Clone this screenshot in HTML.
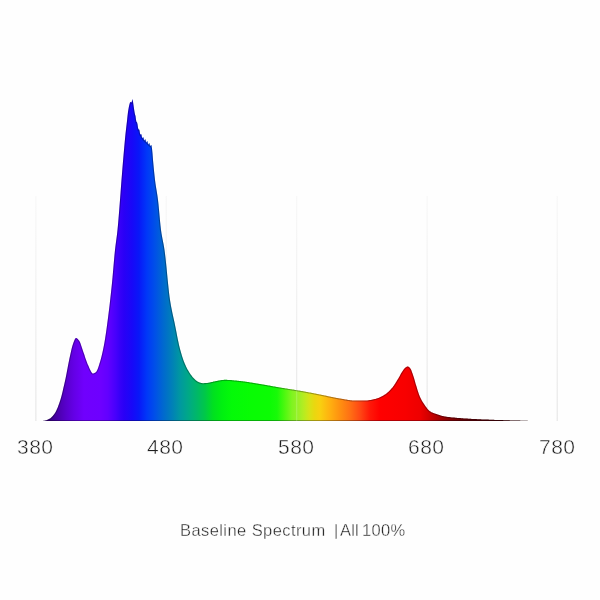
<!DOCTYPE html>
<html><head><meta charset="utf-8"><title>Baseline Spectrum</title>
<style>
html,body{margin:0;padding:0;background:#fefefe;}
body{width:600px;height:600px;position:relative;overflow:hidden;font-family:"Liberation Sans",sans-serif;}
svg{position:absolute;left:0;top:0;}
.t,.cap{will-change:transform;}
.t{position:absolute;top:435px;width:80px;text-align:center;font-size:21px;line-height:24px;color:#1e1e1e;letter-spacing:0.5px;text-indent:0.5px;-webkit-text-stroke:0.45px #fefefe;}
.cap{position:absolute;top:520.1px;font-size:16.5px;line-height:20px;color:#262626;white-space:pre;-webkit-text-stroke:0.35px #fefefe;}
</style></head><body>
<svg width="600" height="600" viewBox="0 0 600 600">
<defs><linearGradient id="g" gradientUnits="userSpaceOnUse" x1="42" y1="0" x2="530" y2="0">
<stop offset="0.0000" stop-color="#2a0060"/>
<stop offset="0.0164" stop-color="#3c0088"/>
<stop offset="0.0328" stop-color="#4a00ac"/>
<stop offset="0.0492" stop-color="#5800cc"/>
<stop offset="0.0656" stop-color="#6400e6"/>
<stop offset="0.0861" stop-color="#7000fd"/>
<stop offset="0.1189" stop-color="#6e00ff"/>
<stop offset="0.1352" stop-color="#6200ff"/>
<stop offset="0.1516" stop-color="#4600fc"/>
<stop offset="0.1598" stop-color="#3600f8"/>
<stop offset="0.1680" stop-color="#2a00f6"/>
<stop offset="0.1844" stop-color="#1808f8"/>
<stop offset="0.1988" stop-color="#0818f8"/>
<stop offset="0.2152" stop-color="#0038f8"/>
<stop offset="0.2316" stop-color="#0050e8"/>
<stop offset="0.2480" stop-color="#0068d0"/>
<stop offset="0.2664" stop-color="#0080b8"/>
<stop offset="0.2828" stop-color="#0098a0"/>
<stop offset="0.2992" stop-color="#00a888"/>
<stop offset="0.3176" stop-color="#00b868"/>
<stop offset="0.3340" stop-color="#00c848"/>
<stop offset="0.3504" stop-color="#00e020"/>
<stop offset="0.3689" stop-color="#00f010"/>
<stop offset="0.3893" stop-color="#04fa08"/>
<stop offset="0.4262" stop-color="#08fc04"/>
<stop offset="0.4672" stop-color="#0cfc04"/>
<stop offset="0.4816" stop-color="#18fa08"/>
<stop offset="0.4980" stop-color="#50f810"/>
<stop offset="0.5123" stop-color="#80f420"/>
<stop offset="0.5246" stop-color="#98f028"/>
<stop offset="0.5369" stop-color="#b8ec20"/>
<stop offset="0.5471" stop-color="#d4e418"/>
<stop offset="0.5574" stop-color="#e8d810"/>
<stop offset="0.5697" stop-color="#f8d010"/>
<stop offset="0.5902" stop-color="#ffb010"/>
<stop offset="0.6107" stop-color="#ff9010"/>
<stop offset="0.6311" stop-color="#ff7014"/>
<stop offset="0.6516" stop-color="#ff4814"/>
<stop offset="0.6721" stop-color="#ff1808"/>
<stop offset="0.6926" stop-color="#ff0000"/>
<stop offset="0.7439" stop-color="#f80000"/>
<stop offset="0.7746" stop-color="#ee0000"/>
<stop offset="0.7910" stop-color="#d40000"/>
<stop offset="0.8074" stop-color="#b40000"/>
<stop offset="0.8279" stop-color="#900000"/>
<stop offset="0.8566" stop-color="#700000"/>
<stop offset="0.9180" stop-color="#500000"/>
<stop offset="1.0000" stop-color="#301010"/>
</linearGradient><linearGradient id="gl" gradientUnits="userSpaceOnUse" x1="0" y1="196" x2="0" y2="421"><stop offset="0" stop-color="#f8f8f8"/><stop offset="0.5" stop-color="#f1f1f1"/><stop offset="1" stop-color="#e9e9e9"/></linearGradient><clipPath id="c"><path d="M42,421 L42.0,421.0 L42.5,421.0 L43.0,420.9 L43.5,420.8 L44.0,420.8 L44.5,420.7 L45.0,420.5 L45.5,420.4 L46.0,420.3 L46.5,420.2 L47.0,420.0 L47.5,419.8 L48.0,419.6 L48.5,419.3 L49.0,419.1 L49.5,418.8 L50.0,418.5 L50.5,418.2 L51.0,417.8 L51.5,417.3 L52.0,416.8 L52.5,416.3 L53.0,415.7 L53.5,415.1 L54.0,414.4 L54.5,413.7 L55.0,413.0 L55.5,412.2 L56.0,411.3 L56.5,410.2 L57.0,409.1 L57.5,407.9 L58.0,406.7 L58.5,405.3 L59.0,403.9 L59.5,402.5 L60.0,401.0 L60.5,399.4 L61.0,397.7 L61.5,395.9 L62.0,393.9 L62.5,391.9 L63.0,389.8 L63.5,387.6 L64.0,385.4 L64.5,383.2 L65.0,381.0 L65.5,378.7 L66.0,376.3 L66.5,373.7 L67.0,371.1 L67.5,368.5 L68.0,365.8 L68.5,363.2 L69.0,360.7 L69.5,358.3 L70.0,356.0 L70.5,353.8 L71.0,351.5 L71.5,349.3 L72.0,347.3 L72.5,345.5 L73.0,344.0 L73.5,342.6 L74.0,341.3 L74.5,340.0 L75.0,339.0 L75.5,338.3 L76.0,338.0 L76.5,338.1 L77.0,338.4 L77.5,338.8 L78.0,339.3 L78.5,339.9 L79.0,340.5 L79.5,341.3 L80.0,342.3 L80.5,343.6 L81.0,345.0 L81.5,346.5 L82.0,348.1 L82.5,349.6 L83.0,351.0 L83.5,352.4 L84.0,353.8 L84.5,355.3 L85.0,356.9 L85.5,358.4 L86.0,359.8 L86.5,361.3 L87.0,362.6 L87.5,363.9 L88.0,365.0 L88.5,366.1 L89.0,367.2 L89.5,368.4 L90.0,369.5 L90.5,370.6 L91.0,371.5 L91.5,372.3 L92.0,373.0 L92.5,373.4 L93.0,373.5 L93.5,373.4 L94.0,373.3 L94.5,373.1 L95.0,372.7 L95.5,372.4 L96.0,372.0 L96.5,371.4 L97.0,370.6 L97.5,369.5 L98.0,368.2 L98.5,366.7 L99.0,365.2 L99.5,363.6 L100.0,362.0 L100.5,360.3 L101.0,358.6 L101.5,356.6 L102.0,354.5 L102.5,352.3 L103.0,350.0 L103.5,347.6 L104.0,345.0 L104.5,342.3 L105.0,339.3 L105.5,336.1 L106.0,332.7 L106.5,329.2 L107.0,325.5 L107.5,321.8 L108.0,318.0 L108.5,314.1 L109.0,310.1 L109.5,305.9 L110.0,301.6 L110.5,297.1 L111.0,292.6 L111.5,287.8 L112.0,283.0 L112.5,277.8 L113.0,272.1 L113.5,266.3 L114.0,260.5 L114.5,255.0 L115.0,250.0 L115.5,245.7 L116.0,241.9 L116.5,238.3 L117.0,234.4 L117.5,230.0 L118.0,224.8 L118.5,219.0 L119.0,212.8 L119.5,206.4 L120.0,200.0 L120.5,193.4 L121.0,186.6 L121.5,180.0 L122.0,173.7 L122.5,167.6 L123.0,161.5 L123.5,155.7 L124.0,150.0 L124.5,144.4 L125.0,139.0 L125.5,133.9 L126.0,129.4 L126.5,125.3 L127.0,121.1 L127.5,116.3 L128.0,112.0 L128.5,108.9 L129.0,106.3 L129.5,104.2 L130.0,102.4 L130.5,102.0 L131.0,102.3 L131.5,102.6 L132.0,101.1 L132.5,99.0 L133.0,101.7 L133.5,105.3 L134.0,108.8 L134.5,112.0 L135.0,114.6 L135.5,116.1 L136.0,120.1 L136.5,122.1 L137.0,122.3 L137.5,124.2 L138.0,127.8 L138.5,129.5 L139.0,129.2 L139.5,130.6 L140.0,133.6 L140.5,134.7 L141.0,133.9 L141.5,134.8 L142.0,137.5 L142.5,138.2 L143.0,137.1 L143.5,137.7 L144.0,140.0 L144.5,140.5 L145.0,139.2 L145.5,139.6 L146.0,141.9 L146.5,142.4 L147.0,141.1 L147.5,141.6 L148.0,143.9 L148.5,144.4 L149.0,143.1 L149.5,143.6 L150.0,145.7 L150.5,146.1 L151.0,144.8 L151.5,145.6 L152.0,148.4 L152.5,153.6 L153.0,160.0 L153.5,165.5 L154.0,170.8 L154.5,175.6 L155.0,180.0 L155.5,183.7 L156.0,187.0 L156.5,190.0 L157.0,193.1 L157.5,196.3 L158.0,200.0 L158.5,204.5 L159.0,209.7 L159.5,215.3 L160.0,220.7 L160.5,225.8 L161.0,230.0 L161.5,233.4 L162.0,236.3 L162.5,238.9 L163.0,241.4 L163.5,244.0 L164.0,246.8 L164.5,250.0 L165.0,253.8 L165.5,258.0 L166.0,262.7 L166.5,267.6 L167.0,272.8 L167.5,277.9 L168.0,283.0 L168.5,287.8 L169.0,292.4 L169.5,296.5 L170.0,300.0 L170.5,303.1 L171.0,305.9 L171.5,308.6 L172.0,311.1 L172.5,313.5 L173.0,315.8 L173.5,318.0 L174.0,320.3 L174.5,322.6 L175.0,325.0 L175.5,327.5 L176.0,330.0 L176.5,332.6 L177.0,335.2 L177.5,337.7 L178.0,340.2 L178.5,342.6 L179.0,344.9 L179.5,347.0 L180.0,349.0 L180.5,350.8 L181.0,352.6 L181.5,354.3 L182.0,356.0 L182.5,357.5 L183.0,359.0 L183.5,360.4 L184.0,361.8 L184.5,363.0 L185.0,364.2 L185.5,365.3 L186.0,366.4 L186.5,367.4 L187.0,368.4 L187.5,369.4 L188.0,370.3 L188.5,371.1 L189.0,372.0 L189.5,372.7 L190.0,373.5 L190.5,374.2 L191.0,374.9 L191.5,375.6 L192.0,376.2 L192.5,376.9 L193.0,377.5 L193.5,378.0 L194.0,378.6 L194.5,379.0 L195.0,379.5 L195.5,379.9 L196.0,380.4 L196.5,380.8 L197.0,381.2 L197.5,381.5 L198.0,381.8 L198.5,382.1 L199.0,382.3 L199.5,382.5 L200.0,382.6 L200.5,382.8 L201.0,382.9 L201.5,383.0 L202.0,383.1 L202.5,383.2 L203.0,383.2 L203.5,383.2 L204.0,383.2 L204.5,383.1 L205.0,383.1 L205.5,383.1 L206.0,383.0 L206.5,383.0 L207.0,382.9 L207.5,382.9 L208.0,382.8 L208.5,382.7 L209.0,382.7 L209.5,382.6 L210.0,382.5 L210.5,382.3 L211.0,382.2 L211.5,382.1 L212.0,382.0 L212.5,381.9 L213.0,381.7 L213.5,381.6 L214.0,381.5 L214.5,381.4 L215.0,381.3 L215.5,381.2 L216.0,381.1 L216.5,381.0 L217.0,380.9 L217.5,380.8 L218.0,380.7 L218.5,380.6 L219.0,380.5 L219.5,380.4 L220.0,380.3 L220.5,380.2 L221.0,380.2 L221.5,380.1 L222.0,380.0 L222.5,380.0 L223.0,379.9 L223.5,379.9 L224.0,379.8 L224.5,379.8 L225.0,379.8 L225.5,379.8 L226.0,379.8 L226.5,379.8 L227.0,379.8 L227.5,379.9 L228.0,379.9 L228.5,379.9 L229.0,379.9 L229.5,380.0 L230.0,380.0 L230.5,380.0 L231.0,380.1 L231.5,380.1 L232.0,380.2 L232.5,380.2 L233.0,380.3 L233.5,380.3 L234.0,380.4 L234.5,380.4 L235.0,380.5 L235.5,380.5 L236.0,380.6 L236.5,380.6 L237.0,380.7 L237.5,380.7 L238.0,380.8 L238.5,380.8 L239.0,380.9 L239.5,380.9 L240.0,381.0 L240.5,381.1 L241.0,381.1 L241.5,381.2 L242.0,381.2 L242.5,381.3 L243.0,381.3 L243.5,381.4 L244.0,381.5 L244.5,381.5 L245.0,381.6 L245.5,381.7 L246.0,381.7 L246.5,381.8 L247.0,381.9 L247.5,382.0 L248.0,382.0 L248.5,382.1 L249.0,382.2 L249.5,382.3 L250.0,382.4 L250.5,382.4 L251.0,382.5 L251.5,382.6 L252.0,382.7 L252.5,382.8 L253.0,382.8 L253.5,382.9 L254.0,383.0 L254.5,383.1 L255.0,383.2 L255.5,383.3 L256.0,383.3 L256.5,383.4 L257.0,383.5 L257.5,383.6 L258.0,383.7 L258.5,383.8 L259.0,383.8 L259.5,383.9 L260.0,384.0 L260.5,384.1 L261.0,384.2 L261.5,384.2 L262.0,384.3 L262.5,384.4 L263.0,384.5 L263.5,384.6 L264.0,384.7 L264.5,384.8 L265.0,384.8 L265.5,384.9 L266.0,385.0 L266.5,385.1 L267.0,385.2 L267.5,385.3 L268.0,385.4 L268.5,385.5 L269.0,385.6 L269.5,385.6 L270.0,385.7 L270.5,385.8 L271.0,385.9 L271.5,386.0 L272.0,386.1 L272.5,386.2 L273.0,386.3 L273.5,386.4 L274.0,386.5 L274.5,386.5 L275.0,386.6 L275.5,386.7 L276.0,386.8 L276.5,386.9 L277.0,387.0 L277.5,387.1 L278.0,387.2 L278.5,387.2 L279.0,387.3 L279.5,387.4 L280.0,387.5 L280.5,387.6 L281.0,387.7 L281.5,387.7 L282.0,387.8 L282.5,387.9 L283.0,388.0 L283.5,388.1 L284.0,388.1 L284.5,388.2 L285.0,388.3 L285.5,388.4 L286.0,388.5 L286.5,388.5 L287.0,388.6 L287.5,388.7 L288.0,388.8 L288.5,388.9 L289.0,388.9 L289.5,389.0 L290.0,389.1 L290.5,389.2 L291.0,389.2 L291.5,389.3 L292.0,389.4 L292.5,389.5 L293.0,389.6 L293.5,389.6 L294.0,389.7 L294.5,389.8 L295.0,389.9 L295.5,389.9 L296.0,390.0 L296.5,390.1 L297.0,390.2 L297.5,390.3 L298.0,390.4 L298.5,390.4 L299.0,390.5 L299.5,390.6 L300.0,390.7 L300.5,390.8 L301.0,390.9 L301.5,391.0 L302.0,391.1 L302.5,391.1 L303.0,391.2 L303.5,391.3 L304.0,391.4 L304.5,391.5 L305.0,391.6 L305.5,391.7 L306.0,391.8 L306.5,391.9 L307.0,392.0 L307.5,392.1 L308.0,392.2 L308.5,392.3 L309.0,392.4 L309.5,392.5 L310.0,392.5 L310.5,392.6 L311.0,392.7 L311.5,392.8 L312.0,392.9 L312.5,393.0 L313.0,393.1 L313.5,393.2 L314.0,393.3 L314.5,393.4 L315.0,393.5 L315.5,393.6 L316.0,393.7 L316.5,393.8 L317.0,393.9 L317.5,394.0 L318.0,394.1 L318.5,394.2 L319.0,394.3 L319.5,394.4 L320.0,394.5 L320.5,394.6 L321.0,394.7 L321.5,394.8 L322.0,394.9 L322.5,395.0 L323.0,395.1 L323.5,395.2 L324.0,395.3 L324.5,395.4 L325.0,395.5 L325.5,395.6 L326.0,395.7 L326.5,395.8 L327.0,396.0 L327.5,396.1 L328.0,396.2 L328.5,396.3 L329.0,396.4 L329.5,396.5 L330.0,396.6 L330.5,396.7 L331.0,396.8 L331.5,396.9 L332.0,397.0 L332.5,397.1 L333.0,397.2 L333.5,397.3 L334.0,397.4 L334.5,397.5 L335.0,397.6 L335.5,397.7 L336.0,397.8 L336.5,397.9 L337.0,398.0 L337.5,398.1 L338.0,398.2 L338.5,398.3 L339.0,398.3 L339.5,398.4 L340.0,398.5 L340.5,398.6 L341.0,398.7 L341.5,398.7 L342.0,398.8 L342.5,398.9 L343.0,399.0 L343.5,399.1 L344.0,399.2 L344.5,399.3 L345.0,399.4 L345.5,399.5 L346.0,399.5 L346.5,399.6 L347.0,399.7 L347.5,399.8 L348.0,399.9 L348.5,400.0 L349.0,400.0 L349.5,400.1 L350.0,400.2 L350.5,400.2 L351.0,400.3 L351.5,400.3 L352.0,400.4 L352.5,400.4 L353.0,400.4 L353.5,400.5 L354.0,400.5 L354.5,400.5 L355.0,400.5 L355.5,400.5 L356.0,400.5 L356.5,400.5 L357.0,400.5 L357.5,400.5 L358.0,400.5 L358.5,400.5 L359.0,400.5 L359.5,400.5 L360.0,400.5 L360.5,400.5 L361.0,400.5 L361.5,400.5 L362.0,400.5 L362.5,400.5 L363.0,400.5 L363.5,400.5 L364.0,400.5 L364.5,400.5 L365.0,400.5 L365.5,400.5 L366.0,400.5 L366.5,400.5 L367.0,400.4 L367.5,400.4 L368.0,400.3 L368.5,400.3 L369.0,400.2 L369.5,400.1 L370.0,400.0 L370.5,399.9 L371.0,399.9 L371.5,399.8 L372.0,399.7 L372.5,399.6 L373.0,399.4 L373.5,399.3 L374.0,399.2 L374.5,399.1 L375.0,399.0 L375.5,398.9 L376.0,398.7 L376.5,398.6 L377.0,398.4 L377.5,398.3 L378.0,398.1 L378.5,397.9 L379.0,397.7 L379.5,397.5 L380.0,397.2 L380.5,397.0 L381.0,396.8 L381.5,396.5 L382.0,396.2 L382.5,396.0 L383.0,395.7 L383.5,395.4 L384.0,395.1 L384.5,394.8 L385.0,394.5 L385.5,394.2 L386.0,393.8 L386.5,393.5 L387.0,393.1 L387.5,392.6 L388.0,392.2 L388.5,391.7 L389.0,391.2 L389.5,390.7 L390.0,390.2 L390.5,389.7 L391.0,389.1 L391.5,388.6 L392.0,388.0 L392.5,387.4 L393.0,386.8 L393.5,386.1 L394.0,385.4 L394.5,384.6 L395.0,383.9 L395.5,383.1 L396.0,382.3 L396.5,381.5 L397.0,380.6 L397.5,379.8 L398.0,379.0 L398.5,378.2 L399.0,377.3 L399.5,376.4 L400.0,375.4 L400.5,374.5 L401.0,373.6 L401.5,372.8 L402.0,372.0 L402.5,371.2 L403.0,370.5 L403.5,369.7 L404.0,369.0 L404.5,368.5 L405.0,368.0 L405.5,367.6 L406.0,367.2 L406.5,366.9 L407.0,366.6 L407.5,366.5 L408.0,366.5 L408.5,366.7 L409.0,367.1 L409.5,367.5 L410.0,368.0 L410.5,368.7 L411.0,369.6 L411.5,370.8 L412.0,372.2 L412.5,373.6 L413.0,375.0 L413.5,376.5 L414.0,378.1 L414.5,379.8 L415.0,381.6 L415.5,383.4 L416.0,385.0 L416.5,386.6 L417.0,388.2 L417.5,389.9 L418.0,391.5 L418.5,393.0 L419.0,394.5 L419.5,395.8 L420.0,397.0 L420.5,398.1 L421.0,399.1 L421.5,400.0 L422.0,400.9 L422.5,401.7 L423.0,402.5 L423.5,403.3 L424.0,404.0 L424.5,404.7 L425.0,405.5 L425.5,406.2 L426.0,406.9 L426.5,407.6 L427.0,408.3 L427.5,408.9 L428.0,409.5 L428.5,410.0 L429.0,410.5 L429.5,410.9 L430.0,411.3 L430.5,411.6 L431.0,411.9 L431.5,412.2 L432.0,412.4 L432.5,412.6 L433.0,412.9 L433.5,413.1 L434.0,413.3 L434.5,413.4 L435.0,413.6 L435.5,413.8 L436.0,414.0 L436.5,414.1 L437.0,414.3 L437.5,414.5 L438.0,414.6 L438.5,414.8 L439.0,415.0 L439.5,415.1 L440.0,415.3 L440.5,415.4 L441.0,415.6 L441.5,415.7 L442.0,415.9 L442.5,416.0 L443.0,416.1 L443.5,416.2 L444.0,416.3 L444.5,416.4 L445.0,416.5 L445.5,416.6 L446.0,416.7 L446.5,416.7 L447.0,416.8 L447.5,416.9 L448.0,416.9 L448.5,417.0 L449.0,417.1 L449.5,417.1 L450.0,417.2 L450.5,417.2 L451.0,417.3 L451.5,417.4 L452.0,417.4 L452.5,417.5 L453.0,417.5 L453.5,417.6 L454.0,417.6 L454.5,417.6 L455.0,417.7 L455.5,417.7 L456.0,417.8 L456.5,417.8 L457.0,417.9 L457.5,417.9 L458.0,417.9 L458.5,418.0 L459.0,418.0 L459.5,418.1 L460.0,418.1 L460.5,418.1 L461.0,418.2 L461.5,418.2 L462.0,418.3 L462.5,418.3 L463.0,418.3 L463.5,418.4 L464.0,418.4 L464.5,418.4 L465.0,418.5 L465.5,418.5 L466.0,418.5 L466.5,418.6 L467.0,418.6 L467.5,418.6 L468.0,418.7 L468.5,418.7 L469.0,418.7 L469.5,418.8 L470.0,418.8 L470.5,418.8 L471.0,418.8 L471.5,418.9 L472.0,418.9 L472.5,418.9 L473.0,419.0 L473.5,419.0 L474.0,419.0 L474.5,419.0 L475.0,419.1 L475.5,419.1 L476.0,419.1 L476.5,419.1 L477.0,419.2 L477.5,419.2 L478.0,419.2 L478.5,419.2 L479.0,419.3 L479.5,419.3 L480.0,419.3 L480.5,419.3 L481.0,419.3 L481.5,419.4 L482.0,419.4 L482.5,419.4 L483.0,419.4 L483.5,419.5 L484.0,419.5 L484.5,419.5 L485.0,419.5 L485.5,419.5 L486.0,419.6 L486.5,419.6 L487.0,419.6 L487.5,419.6 L488.0,419.6 L488.5,419.6 L489.0,419.7 L489.5,419.7 L490.0,419.7 L490.5,419.7 L491.0,419.7 L491.5,419.8 L492.0,419.8 L492.5,419.8 L493.0,419.8 L493.5,419.8 L494.0,419.8 L494.5,419.9 L495.0,419.9 L495.5,419.9 L496.0,419.9 L496.5,419.9 L497.0,419.9 L497.5,420.0 L498.0,420.0 L498.5,420.0 L499.0,420.0 L499.5,420.0 L500.0,420.0 L500.5,420.1 L501.0,420.1 L501.5,420.1 L502.0,420.1 L502.5,420.1 L503.0,420.1 L503.5,420.2 L504.0,420.2 L504.5,420.2 L505.0,420.2 L505.5,420.2 L506.0,420.2 L506.5,420.2 L507.0,420.3 L507.5,420.3 L508.0,420.3 L508.5,420.3 L509.0,420.3 L509.5,420.3 L510.0,420.4 L510.5,420.4 L511.0,420.4 L511.5,420.4 L512.0,420.4 L512.5,420.4 L513.0,420.4 L513.5,420.5 L514.0,420.5 L514.5,420.5 L515.0,420.5 L515.5,420.5 L516.0,420.5 L516.5,420.5 L517.0,420.6 L517.5,420.6 L518.0,420.6 L518.5,420.6 L519.0,420.6 L519.5,420.6 L520.0,420.6 L520.5,420.7 L521.0,420.7 L521.5,420.7 L522.0,420.7 L522.5,420.7 L523.0,420.7 L523.5,420.7 L524.0,420.7 L524.5,420.8 L525.0,420.8 L525.5,420.8 L526.0,420.8 L526.5,420.8 L527.0,420.8 L527.5,420.8 L528.0,420.9 L528.5,420.9 L529.0,420.9 L529.5,420.9 L530.0,420.9 L530,421 Z"/></clipPath></defs>
<rect x="35.2" y="196" width="1.3" height="225" fill="url(#gl)"/><rect x="165.6" y="196" width="1.3" height="225" fill="url(#gl)"/><rect x="296" y="196" width="1.3" height="225" fill="url(#gl)"/><rect x="426.5" y="196" width="1.3" height="225" fill="url(#gl)"/><rect x="556.6" y="196" width="1.3" height="225" fill="url(#gl)"/>
<path d="M42,421 L42.0,421.0 L42.5,421.0 L43.0,420.9 L43.5,420.8 L44.0,420.8 L44.5,420.7 L45.0,420.5 L45.5,420.4 L46.0,420.3 L46.5,420.2 L47.0,420.0 L47.5,419.8 L48.0,419.6 L48.5,419.3 L49.0,419.1 L49.5,418.8 L50.0,418.5 L50.5,418.2 L51.0,417.8 L51.5,417.3 L52.0,416.8 L52.5,416.3 L53.0,415.7 L53.5,415.1 L54.0,414.4 L54.5,413.7 L55.0,413.0 L55.5,412.2 L56.0,411.3 L56.5,410.2 L57.0,409.1 L57.5,407.9 L58.0,406.7 L58.5,405.3 L59.0,403.9 L59.5,402.5 L60.0,401.0 L60.5,399.4 L61.0,397.7 L61.5,395.9 L62.0,393.9 L62.5,391.9 L63.0,389.8 L63.5,387.6 L64.0,385.4 L64.5,383.2 L65.0,381.0 L65.5,378.7 L66.0,376.3 L66.5,373.7 L67.0,371.1 L67.5,368.5 L68.0,365.8 L68.5,363.2 L69.0,360.7 L69.5,358.3 L70.0,356.0 L70.5,353.8 L71.0,351.5 L71.5,349.3 L72.0,347.3 L72.5,345.5 L73.0,344.0 L73.5,342.6 L74.0,341.3 L74.5,340.0 L75.0,339.0 L75.5,338.3 L76.0,338.0 L76.5,338.1 L77.0,338.4 L77.5,338.8 L78.0,339.3 L78.5,339.9 L79.0,340.5 L79.5,341.3 L80.0,342.3 L80.5,343.6 L81.0,345.0 L81.5,346.5 L82.0,348.1 L82.5,349.6 L83.0,351.0 L83.5,352.4 L84.0,353.8 L84.5,355.3 L85.0,356.9 L85.5,358.4 L86.0,359.8 L86.5,361.3 L87.0,362.6 L87.5,363.9 L88.0,365.0 L88.5,366.1 L89.0,367.2 L89.5,368.4 L90.0,369.5 L90.5,370.6 L91.0,371.5 L91.5,372.3 L92.0,373.0 L92.5,373.4 L93.0,373.5 L93.5,373.4 L94.0,373.3 L94.5,373.1 L95.0,372.7 L95.5,372.4 L96.0,372.0 L96.5,371.4 L97.0,370.6 L97.5,369.5 L98.0,368.2 L98.5,366.7 L99.0,365.2 L99.5,363.6 L100.0,362.0 L100.5,360.3 L101.0,358.6 L101.5,356.6 L102.0,354.5 L102.5,352.3 L103.0,350.0 L103.5,347.6 L104.0,345.0 L104.5,342.3 L105.0,339.3 L105.5,336.1 L106.0,332.7 L106.5,329.2 L107.0,325.5 L107.5,321.8 L108.0,318.0 L108.5,314.1 L109.0,310.1 L109.5,305.9 L110.0,301.6 L110.5,297.1 L111.0,292.6 L111.5,287.8 L112.0,283.0 L112.5,277.8 L113.0,272.1 L113.5,266.3 L114.0,260.5 L114.5,255.0 L115.0,250.0 L115.5,245.7 L116.0,241.9 L116.5,238.3 L117.0,234.4 L117.5,230.0 L118.0,224.8 L118.5,219.0 L119.0,212.8 L119.5,206.4 L120.0,200.0 L120.5,193.4 L121.0,186.6 L121.5,180.0 L122.0,173.7 L122.5,167.6 L123.0,161.5 L123.5,155.7 L124.0,150.0 L124.5,144.4 L125.0,139.0 L125.5,133.9 L126.0,129.4 L126.5,125.3 L127.0,121.1 L127.5,116.3 L128.0,112.0 L128.5,108.9 L129.0,106.3 L129.5,104.2 L130.0,102.4 L130.5,102.0 L131.0,102.3 L131.5,102.6 L132.0,101.1 L132.5,99.0 L133.0,101.7 L133.5,105.3 L134.0,108.8 L134.5,112.0 L135.0,114.6 L135.5,116.1 L136.0,120.1 L136.5,122.1 L137.0,122.3 L137.5,124.2 L138.0,127.8 L138.5,129.5 L139.0,129.2 L139.5,130.6 L140.0,133.6 L140.5,134.7 L141.0,133.9 L141.5,134.8 L142.0,137.5 L142.5,138.2 L143.0,137.1 L143.5,137.7 L144.0,140.0 L144.5,140.5 L145.0,139.2 L145.5,139.6 L146.0,141.9 L146.5,142.4 L147.0,141.1 L147.5,141.6 L148.0,143.9 L148.5,144.4 L149.0,143.1 L149.5,143.6 L150.0,145.7 L150.5,146.1 L151.0,144.8 L151.5,145.6 L152.0,148.4 L152.5,153.6 L153.0,160.0 L153.5,165.5 L154.0,170.8 L154.5,175.6 L155.0,180.0 L155.5,183.7 L156.0,187.0 L156.5,190.0 L157.0,193.1 L157.5,196.3 L158.0,200.0 L158.5,204.5 L159.0,209.7 L159.5,215.3 L160.0,220.7 L160.5,225.8 L161.0,230.0 L161.5,233.4 L162.0,236.3 L162.5,238.9 L163.0,241.4 L163.5,244.0 L164.0,246.8 L164.5,250.0 L165.0,253.8 L165.5,258.0 L166.0,262.7 L166.5,267.6 L167.0,272.8 L167.5,277.9 L168.0,283.0 L168.5,287.8 L169.0,292.4 L169.5,296.5 L170.0,300.0 L170.5,303.1 L171.0,305.9 L171.5,308.6 L172.0,311.1 L172.5,313.5 L173.0,315.8 L173.5,318.0 L174.0,320.3 L174.5,322.6 L175.0,325.0 L175.5,327.5 L176.0,330.0 L176.5,332.6 L177.0,335.2 L177.5,337.7 L178.0,340.2 L178.5,342.6 L179.0,344.9 L179.5,347.0 L180.0,349.0 L180.5,350.8 L181.0,352.6 L181.5,354.3 L182.0,356.0 L182.5,357.5 L183.0,359.0 L183.5,360.4 L184.0,361.8 L184.5,363.0 L185.0,364.2 L185.5,365.3 L186.0,366.4 L186.5,367.4 L187.0,368.4 L187.5,369.4 L188.0,370.3 L188.5,371.1 L189.0,372.0 L189.5,372.7 L190.0,373.5 L190.5,374.2 L191.0,374.9 L191.5,375.6 L192.0,376.2 L192.5,376.9 L193.0,377.5 L193.5,378.0 L194.0,378.6 L194.5,379.0 L195.0,379.5 L195.5,379.9 L196.0,380.4 L196.5,380.8 L197.0,381.2 L197.5,381.5 L198.0,381.8 L198.5,382.1 L199.0,382.3 L199.5,382.5 L200.0,382.6 L200.5,382.8 L201.0,382.9 L201.5,383.0 L202.0,383.1 L202.5,383.2 L203.0,383.2 L203.5,383.2 L204.0,383.2 L204.5,383.1 L205.0,383.1 L205.5,383.1 L206.0,383.0 L206.5,383.0 L207.0,382.9 L207.5,382.9 L208.0,382.8 L208.5,382.7 L209.0,382.7 L209.5,382.6 L210.0,382.5 L210.5,382.3 L211.0,382.2 L211.5,382.1 L212.0,382.0 L212.5,381.9 L213.0,381.7 L213.5,381.6 L214.0,381.5 L214.5,381.4 L215.0,381.3 L215.5,381.2 L216.0,381.1 L216.5,381.0 L217.0,380.9 L217.5,380.8 L218.0,380.7 L218.5,380.6 L219.0,380.5 L219.5,380.4 L220.0,380.3 L220.5,380.2 L221.0,380.2 L221.5,380.1 L222.0,380.0 L222.5,380.0 L223.0,379.9 L223.5,379.9 L224.0,379.8 L224.5,379.8 L225.0,379.8 L225.5,379.8 L226.0,379.8 L226.5,379.8 L227.0,379.8 L227.5,379.9 L228.0,379.9 L228.5,379.9 L229.0,379.9 L229.5,380.0 L230.0,380.0 L230.5,380.0 L231.0,380.1 L231.5,380.1 L232.0,380.2 L232.5,380.2 L233.0,380.3 L233.5,380.3 L234.0,380.4 L234.5,380.4 L235.0,380.5 L235.5,380.5 L236.0,380.6 L236.5,380.6 L237.0,380.7 L237.5,380.7 L238.0,380.8 L238.5,380.8 L239.0,380.9 L239.5,380.9 L240.0,381.0 L240.5,381.1 L241.0,381.1 L241.5,381.2 L242.0,381.2 L242.5,381.3 L243.0,381.3 L243.5,381.4 L244.0,381.5 L244.5,381.5 L245.0,381.6 L245.5,381.7 L246.0,381.7 L246.5,381.8 L247.0,381.9 L247.5,382.0 L248.0,382.0 L248.5,382.1 L249.0,382.2 L249.5,382.3 L250.0,382.4 L250.5,382.4 L251.0,382.5 L251.5,382.6 L252.0,382.7 L252.5,382.8 L253.0,382.8 L253.5,382.9 L254.0,383.0 L254.5,383.1 L255.0,383.2 L255.5,383.3 L256.0,383.3 L256.5,383.4 L257.0,383.5 L257.5,383.6 L258.0,383.7 L258.5,383.8 L259.0,383.8 L259.5,383.9 L260.0,384.0 L260.5,384.1 L261.0,384.2 L261.5,384.2 L262.0,384.3 L262.5,384.4 L263.0,384.5 L263.5,384.6 L264.0,384.7 L264.5,384.8 L265.0,384.8 L265.5,384.9 L266.0,385.0 L266.5,385.1 L267.0,385.2 L267.5,385.3 L268.0,385.4 L268.5,385.5 L269.0,385.6 L269.5,385.6 L270.0,385.7 L270.5,385.8 L271.0,385.9 L271.5,386.0 L272.0,386.1 L272.5,386.2 L273.0,386.3 L273.5,386.4 L274.0,386.5 L274.5,386.5 L275.0,386.6 L275.5,386.7 L276.0,386.8 L276.5,386.9 L277.0,387.0 L277.5,387.1 L278.0,387.2 L278.5,387.2 L279.0,387.3 L279.5,387.4 L280.0,387.5 L280.5,387.6 L281.0,387.7 L281.5,387.7 L282.0,387.8 L282.5,387.9 L283.0,388.0 L283.5,388.1 L284.0,388.1 L284.5,388.2 L285.0,388.3 L285.5,388.4 L286.0,388.5 L286.5,388.5 L287.0,388.6 L287.5,388.7 L288.0,388.8 L288.5,388.9 L289.0,388.9 L289.5,389.0 L290.0,389.1 L290.5,389.2 L291.0,389.2 L291.5,389.3 L292.0,389.4 L292.5,389.5 L293.0,389.6 L293.5,389.6 L294.0,389.7 L294.5,389.8 L295.0,389.9 L295.5,389.9 L296.0,390.0 L296.5,390.1 L297.0,390.2 L297.5,390.3 L298.0,390.4 L298.5,390.4 L299.0,390.5 L299.5,390.6 L300.0,390.7 L300.5,390.8 L301.0,390.9 L301.5,391.0 L302.0,391.1 L302.5,391.1 L303.0,391.2 L303.5,391.3 L304.0,391.4 L304.5,391.5 L305.0,391.6 L305.5,391.7 L306.0,391.8 L306.5,391.9 L307.0,392.0 L307.5,392.1 L308.0,392.2 L308.5,392.3 L309.0,392.4 L309.5,392.5 L310.0,392.5 L310.5,392.6 L311.0,392.7 L311.5,392.8 L312.0,392.9 L312.5,393.0 L313.0,393.1 L313.5,393.2 L314.0,393.3 L314.5,393.4 L315.0,393.5 L315.5,393.6 L316.0,393.7 L316.5,393.8 L317.0,393.9 L317.5,394.0 L318.0,394.1 L318.5,394.2 L319.0,394.3 L319.5,394.4 L320.0,394.5 L320.5,394.6 L321.0,394.7 L321.5,394.8 L322.0,394.9 L322.5,395.0 L323.0,395.1 L323.5,395.2 L324.0,395.3 L324.5,395.4 L325.0,395.5 L325.5,395.6 L326.0,395.7 L326.5,395.8 L327.0,396.0 L327.5,396.1 L328.0,396.2 L328.5,396.3 L329.0,396.4 L329.5,396.5 L330.0,396.6 L330.5,396.7 L331.0,396.8 L331.5,396.9 L332.0,397.0 L332.5,397.1 L333.0,397.2 L333.5,397.3 L334.0,397.4 L334.5,397.5 L335.0,397.6 L335.5,397.7 L336.0,397.8 L336.5,397.9 L337.0,398.0 L337.5,398.1 L338.0,398.2 L338.5,398.3 L339.0,398.3 L339.5,398.4 L340.0,398.5 L340.5,398.6 L341.0,398.7 L341.5,398.7 L342.0,398.8 L342.5,398.9 L343.0,399.0 L343.5,399.1 L344.0,399.2 L344.5,399.3 L345.0,399.4 L345.5,399.5 L346.0,399.5 L346.5,399.6 L347.0,399.7 L347.5,399.8 L348.0,399.9 L348.5,400.0 L349.0,400.0 L349.5,400.1 L350.0,400.2 L350.5,400.2 L351.0,400.3 L351.5,400.3 L352.0,400.4 L352.5,400.4 L353.0,400.4 L353.5,400.5 L354.0,400.5 L354.5,400.5 L355.0,400.5 L355.5,400.5 L356.0,400.5 L356.5,400.5 L357.0,400.5 L357.5,400.5 L358.0,400.5 L358.5,400.5 L359.0,400.5 L359.5,400.5 L360.0,400.5 L360.5,400.5 L361.0,400.5 L361.5,400.5 L362.0,400.5 L362.5,400.5 L363.0,400.5 L363.5,400.5 L364.0,400.5 L364.5,400.5 L365.0,400.5 L365.5,400.5 L366.0,400.5 L366.5,400.5 L367.0,400.4 L367.5,400.4 L368.0,400.3 L368.5,400.3 L369.0,400.2 L369.5,400.1 L370.0,400.0 L370.5,399.9 L371.0,399.9 L371.5,399.8 L372.0,399.7 L372.5,399.6 L373.0,399.4 L373.5,399.3 L374.0,399.2 L374.5,399.1 L375.0,399.0 L375.5,398.9 L376.0,398.7 L376.5,398.6 L377.0,398.4 L377.5,398.3 L378.0,398.1 L378.5,397.9 L379.0,397.7 L379.5,397.5 L380.0,397.2 L380.5,397.0 L381.0,396.8 L381.5,396.5 L382.0,396.2 L382.5,396.0 L383.0,395.7 L383.5,395.4 L384.0,395.1 L384.5,394.8 L385.0,394.5 L385.5,394.2 L386.0,393.8 L386.5,393.5 L387.0,393.1 L387.5,392.6 L388.0,392.2 L388.5,391.7 L389.0,391.2 L389.5,390.7 L390.0,390.2 L390.5,389.7 L391.0,389.1 L391.5,388.6 L392.0,388.0 L392.5,387.4 L393.0,386.8 L393.5,386.1 L394.0,385.4 L394.5,384.6 L395.0,383.9 L395.5,383.1 L396.0,382.3 L396.5,381.5 L397.0,380.6 L397.5,379.8 L398.0,379.0 L398.5,378.2 L399.0,377.3 L399.5,376.4 L400.0,375.4 L400.5,374.5 L401.0,373.6 L401.5,372.8 L402.0,372.0 L402.5,371.2 L403.0,370.5 L403.5,369.7 L404.0,369.0 L404.5,368.5 L405.0,368.0 L405.5,367.6 L406.0,367.2 L406.5,366.9 L407.0,366.6 L407.5,366.5 L408.0,366.5 L408.5,366.7 L409.0,367.1 L409.5,367.5 L410.0,368.0 L410.5,368.7 L411.0,369.6 L411.5,370.8 L412.0,372.2 L412.5,373.6 L413.0,375.0 L413.5,376.5 L414.0,378.1 L414.5,379.8 L415.0,381.6 L415.5,383.4 L416.0,385.0 L416.5,386.6 L417.0,388.2 L417.5,389.9 L418.0,391.5 L418.5,393.0 L419.0,394.5 L419.5,395.8 L420.0,397.0 L420.5,398.1 L421.0,399.1 L421.5,400.0 L422.0,400.9 L422.5,401.7 L423.0,402.5 L423.5,403.3 L424.0,404.0 L424.5,404.7 L425.0,405.5 L425.5,406.2 L426.0,406.9 L426.5,407.6 L427.0,408.3 L427.5,408.9 L428.0,409.5 L428.5,410.0 L429.0,410.5 L429.5,410.9 L430.0,411.3 L430.5,411.6 L431.0,411.9 L431.5,412.2 L432.0,412.4 L432.5,412.6 L433.0,412.9 L433.5,413.1 L434.0,413.3 L434.5,413.4 L435.0,413.6 L435.5,413.8 L436.0,414.0 L436.5,414.1 L437.0,414.3 L437.5,414.5 L438.0,414.6 L438.5,414.8 L439.0,415.0 L439.5,415.1 L440.0,415.3 L440.5,415.4 L441.0,415.6 L441.5,415.7 L442.0,415.9 L442.5,416.0 L443.0,416.1 L443.5,416.2 L444.0,416.3 L444.5,416.4 L445.0,416.5 L445.5,416.6 L446.0,416.7 L446.5,416.7 L447.0,416.8 L447.5,416.9 L448.0,416.9 L448.5,417.0 L449.0,417.1 L449.5,417.1 L450.0,417.2 L450.5,417.2 L451.0,417.3 L451.5,417.4 L452.0,417.4 L452.5,417.5 L453.0,417.5 L453.5,417.6 L454.0,417.6 L454.5,417.6 L455.0,417.7 L455.5,417.7 L456.0,417.8 L456.5,417.8 L457.0,417.9 L457.5,417.9 L458.0,417.9 L458.5,418.0 L459.0,418.0 L459.5,418.1 L460.0,418.1 L460.5,418.1 L461.0,418.2 L461.5,418.2 L462.0,418.3 L462.5,418.3 L463.0,418.3 L463.5,418.4 L464.0,418.4 L464.5,418.4 L465.0,418.5 L465.5,418.5 L466.0,418.5 L466.5,418.6 L467.0,418.6 L467.5,418.6 L468.0,418.7 L468.5,418.7 L469.0,418.7 L469.5,418.8 L470.0,418.8 L470.5,418.8 L471.0,418.8 L471.5,418.9 L472.0,418.9 L472.5,418.9 L473.0,419.0 L473.5,419.0 L474.0,419.0 L474.5,419.0 L475.0,419.1 L475.5,419.1 L476.0,419.1 L476.5,419.1 L477.0,419.2 L477.5,419.2 L478.0,419.2 L478.5,419.2 L479.0,419.3 L479.5,419.3 L480.0,419.3 L480.5,419.3 L481.0,419.3 L481.5,419.4 L482.0,419.4 L482.5,419.4 L483.0,419.4 L483.5,419.5 L484.0,419.5 L484.5,419.5 L485.0,419.5 L485.5,419.5 L486.0,419.6 L486.5,419.6 L487.0,419.6 L487.5,419.6 L488.0,419.6 L488.5,419.6 L489.0,419.7 L489.5,419.7 L490.0,419.7 L490.5,419.7 L491.0,419.7 L491.5,419.8 L492.0,419.8 L492.5,419.8 L493.0,419.8 L493.5,419.8 L494.0,419.8 L494.5,419.9 L495.0,419.9 L495.5,419.9 L496.0,419.9 L496.5,419.9 L497.0,419.9 L497.5,420.0 L498.0,420.0 L498.5,420.0 L499.0,420.0 L499.5,420.0 L500.0,420.0 L500.5,420.1 L501.0,420.1 L501.5,420.1 L502.0,420.1 L502.5,420.1 L503.0,420.1 L503.5,420.2 L504.0,420.2 L504.5,420.2 L505.0,420.2 L505.5,420.2 L506.0,420.2 L506.5,420.2 L507.0,420.3 L507.5,420.3 L508.0,420.3 L508.5,420.3 L509.0,420.3 L509.5,420.3 L510.0,420.4 L510.5,420.4 L511.0,420.4 L511.5,420.4 L512.0,420.4 L512.5,420.4 L513.0,420.4 L513.5,420.5 L514.0,420.5 L514.5,420.5 L515.0,420.5 L515.5,420.5 L516.0,420.5 L516.5,420.5 L517.0,420.6 L517.5,420.6 L518.0,420.6 L518.5,420.6 L519.0,420.6 L519.5,420.6 L520.0,420.6 L520.5,420.7 L521.0,420.7 L521.5,420.7 L522.0,420.7 L522.5,420.7 L523.0,420.7 L523.5,420.7 L524.0,420.7 L524.5,420.8 L525.0,420.8 L525.5,420.8 L526.0,420.8 L526.5,420.8 L527.0,420.8 L527.5,420.8 L528.0,420.9 L528.5,420.9 L529.0,420.9 L529.5,420.9 L530.0,420.9 L530,421 Z" fill="url(#g)"/>
<path d="M42,421 L42.0,421.0 L42.5,421.0 L43.0,420.9 L43.5,420.8 L44.0,420.8 L44.5,420.7 L45.0,420.5 L45.5,420.4 L46.0,420.3 L46.5,420.2 L47.0,420.0 L47.5,419.8 L48.0,419.6 L48.5,419.3 L49.0,419.1 L49.5,418.8 L50.0,418.5 L50.5,418.2 L51.0,417.8 L51.5,417.3 L52.0,416.8 L52.5,416.3 L53.0,415.7 L53.5,415.1 L54.0,414.4 L54.5,413.7 L55.0,413.0 L55.5,412.2 L56.0,411.3 L56.5,410.2 L57.0,409.1 L57.5,407.9 L58.0,406.7 L58.5,405.3 L59.0,403.9 L59.5,402.5 L60.0,401.0 L60.5,399.4 L61.0,397.7 L61.5,395.9 L62.0,393.9 L62.5,391.9 L63.0,389.8 L63.5,387.6 L64.0,385.4 L64.5,383.2 L65.0,381.0 L65.5,378.7 L66.0,376.3 L66.5,373.7 L67.0,371.1 L67.5,368.5 L68.0,365.8 L68.5,363.2 L69.0,360.7 L69.5,358.3 L70.0,356.0 L70.5,353.8 L71.0,351.5 L71.5,349.3 L72.0,347.3 L72.5,345.5 L73.0,344.0 L73.5,342.6 L74.0,341.3 L74.5,340.0 L75.0,339.0 L75.5,338.3 L76.0,338.0 L76.5,338.1 L77.0,338.4 L77.5,338.8 L78.0,339.3 L78.5,339.9 L79.0,340.5 L79.5,341.3 L80.0,342.3 L80.5,343.6 L81.0,345.0 L81.5,346.5 L82.0,348.1 L82.5,349.6 L83.0,351.0 L83.5,352.4 L84.0,353.8 L84.5,355.3 L85.0,356.9 L85.5,358.4 L86.0,359.8 L86.5,361.3 L87.0,362.6 L87.5,363.9 L88.0,365.0 L88.5,366.1 L89.0,367.2 L89.5,368.4 L90.0,369.5 L90.5,370.6 L91.0,371.5 L91.5,372.3 L92.0,373.0 L92.5,373.4 L93.0,373.5 L93.5,373.4 L94.0,373.3 L94.5,373.1 L95.0,372.7 L95.5,372.4 L96.0,372.0 L96.5,371.4 L97.0,370.6 L97.5,369.5 L98.0,368.2 L98.5,366.7 L99.0,365.2 L99.5,363.6 L100.0,362.0 L100.5,360.3 L101.0,358.6 L101.5,356.6 L102.0,354.5 L102.5,352.3 L103.0,350.0 L103.5,347.6 L104.0,345.0 L104.5,342.3 L105.0,339.3 L105.5,336.1 L106.0,332.7 L106.5,329.2 L107.0,325.5 L107.5,321.8 L108.0,318.0 L108.5,314.1 L109.0,310.1 L109.5,305.9 L110.0,301.6 L110.5,297.1 L111.0,292.6 L111.5,287.8 L112.0,283.0 L112.5,277.8 L113.0,272.1 L113.5,266.3 L114.0,260.5 L114.5,255.0 L115.0,250.0 L115.5,245.7 L116.0,241.9 L116.5,238.3 L117.0,234.4 L117.5,230.0 L118.0,224.8 L118.5,219.0 L119.0,212.8 L119.5,206.4 L120.0,200.0 L120.5,193.4 L121.0,186.6 L121.5,180.0 L122.0,173.7 L122.5,167.6 L123.0,161.5 L123.5,155.7 L124.0,150.0 L124.5,144.4 L125.0,139.0 L125.5,133.9 L126.0,129.4 L126.5,125.3 L127.0,121.1 L127.5,116.3 L128.0,112.0 L128.5,108.9 L129.0,106.3 L129.5,104.2 L130.0,102.4 L130.5,102.0 L131.0,102.3 L131.5,102.6 L132.0,101.1 L132.5,99.0 L133.0,101.7 L133.5,105.3 L134.0,108.8 L134.5,112.0 L135.0,114.6 L135.5,116.1 L136.0,120.1 L136.5,122.1 L137.0,122.3 L137.5,124.2 L138.0,127.8 L138.5,129.5 L139.0,129.2 L139.5,130.6 L140.0,133.6 L140.5,134.7 L141.0,133.9 L141.5,134.8 L142.0,137.5 L142.5,138.2 L143.0,137.1 L143.5,137.7 L144.0,140.0 L144.5,140.5 L145.0,139.2 L145.5,139.6 L146.0,141.9 L146.5,142.4 L147.0,141.1 L147.5,141.6 L148.0,143.9 L148.5,144.4 L149.0,143.1 L149.5,143.6 L150.0,145.7 L150.5,146.1 L151.0,144.8 L151.5,145.6 L152.0,148.4 L152.5,153.6 L153.0,160.0 L153.5,165.5 L154.0,170.8 L154.5,175.6 L155.0,180.0 L155.5,183.7 L156.0,187.0 L156.5,190.0 L157.0,193.1 L157.5,196.3 L158.0,200.0 L158.5,204.5 L159.0,209.7 L159.5,215.3 L160.0,220.7 L160.5,225.8 L161.0,230.0 L161.5,233.4 L162.0,236.3 L162.5,238.9 L163.0,241.4 L163.5,244.0 L164.0,246.8 L164.5,250.0 L165.0,253.8 L165.5,258.0 L166.0,262.7 L166.5,267.6 L167.0,272.8 L167.5,277.9 L168.0,283.0 L168.5,287.8 L169.0,292.4 L169.5,296.5 L170.0,300.0 L170.5,303.1 L171.0,305.9 L171.5,308.6 L172.0,311.1 L172.5,313.5 L173.0,315.8 L173.5,318.0 L174.0,320.3 L174.5,322.6 L175.0,325.0 L175.5,327.5 L176.0,330.0 L176.5,332.6 L177.0,335.2 L177.5,337.7 L178.0,340.2 L178.5,342.6 L179.0,344.9 L179.5,347.0 L180.0,349.0 L180.5,350.8 L181.0,352.6 L181.5,354.3 L182.0,356.0 L182.5,357.5 L183.0,359.0 L183.5,360.4 L184.0,361.8 L184.5,363.0 L185.0,364.2 L185.5,365.3 L186.0,366.4 L186.5,367.4 L187.0,368.4 L187.5,369.4 L188.0,370.3 L188.5,371.1 L189.0,372.0 L189.5,372.7 L190.0,373.5 L190.5,374.2 L191.0,374.9 L191.5,375.6 L192.0,376.2 L192.5,376.9 L193.0,377.5 L193.5,378.0 L194.0,378.6 L194.5,379.0 L195.0,379.5 L195.5,379.9 L196.0,380.4 L196.5,380.8 L197.0,381.2 L197.5,381.5 L198.0,381.8 L198.5,382.1 L199.0,382.3 L199.5,382.5 L200.0,382.6 L200.5,382.8 L201.0,382.9 L201.5,383.0 L202.0,383.1 L202.5,383.2 L203.0,383.2 L203.5,383.2 L204.0,383.2 L204.5,383.1 L205.0,383.1 L205.5,383.1 L206.0,383.0 L206.5,383.0 L207.0,382.9 L207.5,382.9 L208.0,382.8 L208.5,382.7 L209.0,382.7 L209.5,382.6 L210.0,382.5 L210.5,382.3 L211.0,382.2 L211.5,382.1 L212.0,382.0 L212.5,381.9 L213.0,381.7 L213.5,381.6 L214.0,381.5 L214.5,381.4 L215.0,381.3 L215.5,381.2 L216.0,381.1 L216.5,381.0 L217.0,380.9 L217.5,380.8 L218.0,380.7 L218.5,380.6 L219.0,380.5 L219.5,380.4 L220.0,380.3 L220.5,380.2 L221.0,380.2 L221.5,380.1 L222.0,380.0 L222.5,380.0 L223.0,379.9 L223.5,379.9 L224.0,379.8 L224.5,379.8 L225.0,379.8 L225.5,379.8 L226.0,379.8 L226.5,379.8 L227.0,379.8 L227.5,379.9 L228.0,379.9 L228.5,379.9 L229.0,379.9 L229.5,380.0 L230.0,380.0 L230.5,380.0 L231.0,380.1 L231.5,380.1 L232.0,380.2 L232.5,380.2 L233.0,380.3 L233.5,380.3 L234.0,380.4 L234.5,380.4 L235.0,380.5 L235.5,380.5 L236.0,380.6 L236.5,380.6 L237.0,380.7 L237.5,380.7 L238.0,380.8 L238.5,380.8 L239.0,380.9 L239.5,380.9 L240.0,381.0 L240.5,381.1 L241.0,381.1 L241.5,381.2 L242.0,381.2 L242.5,381.3 L243.0,381.3 L243.5,381.4 L244.0,381.5 L244.5,381.5 L245.0,381.6 L245.5,381.7 L246.0,381.7 L246.5,381.8 L247.0,381.9 L247.5,382.0 L248.0,382.0 L248.5,382.1 L249.0,382.2 L249.5,382.3 L250.0,382.4 L250.5,382.4 L251.0,382.5 L251.5,382.6 L252.0,382.7 L252.5,382.8 L253.0,382.8 L253.5,382.9 L254.0,383.0 L254.5,383.1 L255.0,383.2 L255.5,383.3 L256.0,383.3 L256.5,383.4 L257.0,383.5 L257.5,383.6 L258.0,383.7 L258.5,383.8 L259.0,383.8 L259.5,383.9 L260.0,384.0 L260.5,384.1 L261.0,384.2 L261.5,384.2 L262.0,384.3 L262.5,384.4 L263.0,384.5 L263.5,384.6 L264.0,384.7 L264.5,384.8 L265.0,384.8 L265.5,384.9 L266.0,385.0 L266.5,385.1 L267.0,385.2 L267.5,385.3 L268.0,385.4 L268.5,385.5 L269.0,385.6 L269.5,385.6 L270.0,385.7 L270.5,385.8 L271.0,385.9 L271.5,386.0 L272.0,386.1 L272.5,386.2 L273.0,386.3 L273.5,386.4 L274.0,386.5 L274.5,386.5 L275.0,386.6 L275.5,386.7 L276.0,386.8 L276.5,386.9 L277.0,387.0 L277.5,387.1 L278.0,387.2 L278.5,387.2 L279.0,387.3 L279.5,387.4 L280.0,387.5 L280.5,387.6 L281.0,387.7 L281.5,387.7 L282.0,387.8 L282.5,387.9 L283.0,388.0 L283.5,388.1 L284.0,388.1 L284.5,388.2 L285.0,388.3 L285.5,388.4 L286.0,388.5 L286.5,388.5 L287.0,388.6 L287.5,388.7 L288.0,388.8 L288.5,388.9 L289.0,388.9 L289.5,389.0 L290.0,389.1 L290.5,389.2 L291.0,389.2 L291.5,389.3 L292.0,389.4 L292.5,389.5 L293.0,389.6 L293.5,389.6 L294.0,389.7 L294.5,389.8 L295.0,389.9 L295.5,389.9 L296.0,390.0 L296.5,390.1 L297.0,390.2 L297.5,390.3 L298.0,390.4 L298.5,390.4 L299.0,390.5 L299.5,390.6 L300.0,390.7 L300.5,390.8 L301.0,390.9 L301.5,391.0 L302.0,391.1 L302.5,391.1 L303.0,391.2 L303.5,391.3 L304.0,391.4 L304.5,391.5 L305.0,391.6 L305.5,391.7 L306.0,391.8 L306.5,391.9 L307.0,392.0 L307.5,392.1 L308.0,392.2 L308.5,392.3 L309.0,392.4 L309.5,392.5 L310.0,392.5 L310.5,392.6 L311.0,392.7 L311.5,392.8 L312.0,392.9 L312.5,393.0 L313.0,393.1 L313.5,393.2 L314.0,393.3 L314.5,393.4 L315.0,393.5 L315.5,393.6 L316.0,393.7 L316.5,393.8 L317.0,393.9 L317.5,394.0 L318.0,394.1 L318.5,394.2 L319.0,394.3 L319.5,394.4 L320.0,394.5 L320.5,394.6 L321.0,394.7 L321.5,394.8 L322.0,394.9 L322.5,395.0 L323.0,395.1 L323.5,395.2 L324.0,395.3 L324.5,395.4 L325.0,395.5 L325.5,395.6 L326.0,395.7 L326.5,395.8 L327.0,396.0 L327.5,396.1 L328.0,396.2 L328.5,396.3 L329.0,396.4 L329.5,396.5 L330.0,396.6 L330.5,396.7 L331.0,396.8 L331.5,396.9 L332.0,397.0 L332.5,397.1 L333.0,397.2 L333.5,397.3 L334.0,397.4 L334.5,397.5 L335.0,397.6 L335.5,397.7 L336.0,397.8 L336.5,397.9 L337.0,398.0 L337.5,398.1 L338.0,398.2 L338.5,398.3 L339.0,398.3 L339.5,398.4 L340.0,398.5 L340.5,398.6 L341.0,398.7 L341.5,398.7 L342.0,398.8 L342.5,398.9 L343.0,399.0 L343.5,399.1 L344.0,399.2 L344.5,399.3 L345.0,399.4 L345.5,399.5 L346.0,399.5 L346.5,399.6 L347.0,399.7 L347.5,399.8 L348.0,399.9 L348.5,400.0 L349.0,400.0 L349.5,400.1 L350.0,400.2 L350.5,400.2 L351.0,400.3 L351.5,400.3 L352.0,400.4 L352.5,400.4 L353.0,400.4 L353.5,400.5 L354.0,400.5 L354.5,400.5 L355.0,400.5 L355.5,400.5 L356.0,400.5 L356.5,400.5 L357.0,400.5 L357.5,400.5 L358.0,400.5 L358.5,400.5 L359.0,400.5 L359.5,400.5 L360.0,400.5 L360.5,400.5 L361.0,400.5 L361.5,400.5 L362.0,400.5 L362.5,400.5 L363.0,400.5 L363.5,400.5 L364.0,400.5 L364.5,400.5 L365.0,400.5 L365.5,400.5 L366.0,400.5 L366.5,400.5 L367.0,400.4 L367.5,400.4 L368.0,400.3 L368.5,400.3 L369.0,400.2 L369.5,400.1 L370.0,400.0 L370.5,399.9 L371.0,399.9 L371.5,399.8 L372.0,399.7 L372.5,399.6 L373.0,399.4 L373.5,399.3 L374.0,399.2 L374.5,399.1 L375.0,399.0 L375.5,398.9 L376.0,398.7 L376.5,398.6 L377.0,398.4 L377.5,398.3 L378.0,398.1 L378.5,397.9 L379.0,397.7 L379.5,397.5 L380.0,397.2 L380.5,397.0 L381.0,396.8 L381.5,396.5 L382.0,396.2 L382.5,396.0 L383.0,395.7 L383.5,395.4 L384.0,395.1 L384.5,394.8 L385.0,394.5 L385.5,394.2 L386.0,393.8 L386.5,393.5 L387.0,393.1 L387.5,392.6 L388.0,392.2 L388.5,391.7 L389.0,391.2 L389.5,390.7 L390.0,390.2 L390.5,389.7 L391.0,389.1 L391.5,388.6 L392.0,388.0 L392.5,387.4 L393.0,386.8 L393.5,386.1 L394.0,385.4 L394.5,384.6 L395.0,383.9 L395.5,383.1 L396.0,382.3 L396.5,381.5 L397.0,380.6 L397.5,379.8 L398.0,379.0 L398.5,378.2 L399.0,377.3 L399.5,376.4 L400.0,375.4 L400.5,374.5 L401.0,373.6 L401.5,372.8 L402.0,372.0 L402.5,371.2 L403.0,370.5 L403.5,369.7 L404.0,369.0 L404.5,368.5 L405.0,368.0 L405.5,367.6 L406.0,367.2 L406.5,366.9 L407.0,366.6 L407.5,366.5 L408.0,366.5 L408.5,366.7 L409.0,367.1 L409.5,367.5 L410.0,368.0 L410.5,368.7 L411.0,369.6 L411.5,370.8 L412.0,372.2 L412.5,373.6 L413.0,375.0 L413.5,376.5 L414.0,378.1 L414.5,379.8 L415.0,381.6 L415.5,383.4 L416.0,385.0 L416.5,386.6 L417.0,388.2 L417.5,389.9 L418.0,391.5 L418.5,393.0 L419.0,394.5 L419.5,395.8 L420.0,397.0 L420.5,398.1 L421.0,399.1 L421.5,400.0 L422.0,400.9 L422.5,401.7 L423.0,402.5 L423.5,403.3 L424.0,404.0 L424.5,404.7 L425.0,405.5 L425.5,406.2 L426.0,406.9 L426.5,407.6 L427.0,408.3 L427.5,408.9 L428.0,409.5 L428.5,410.0 L429.0,410.5 L429.5,410.9 L430.0,411.3 L430.5,411.6 L431.0,411.9 L431.5,412.2 L432.0,412.4 L432.5,412.6 L433.0,412.9 L433.5,413.1 L434.0,413.3 L434.5,413.4 L435.0,413.6 L435.5,413.8 L436.0,414.0 L436.5,414.1 L437.0,414.3 L437.5,414.5 L438.0,414.6 L438.5,414.8 L439.0,415.0 L439.5,415.1 L440.0,415.3 L440.5,415.4 L441.0,415.6 L441.5,415.7 L442.0,415.9 L442.5,416.0 L443.0,416.1 L443.5,416.2 L444.0,416.3 L444.5,416.4 L445.0,416.5 L445.5,416.6 L446.0,416.7 L446.5,416.7 L447.0,416.8 L447.5,416.9 L448.0,416.9 L448.5,417.0 L449.0,417.1 L449.5,417.1 L450.0,417.2 L450.5,417.2 L451.0,417.3 L451.5,417.4 L452.0,417.4 L452.5,417.5 L453.0,417.5 L453.5,417.6 L454.0,417.6 L454.5,417.6 L455.0,417.7 L455.5,417.7 L456.0,417.8 L456.5,417.8 L457.0,417.9 L457.5,417.9 L458.0,417.9 L458.5,418.0 L459.0,418.0 L459.5,418.1 L460.0,418.1 L460.5,418.1 L461.0,418.2 L461.5,418.2 L462.0,418.3 L462.5,418.3 L463.0,418.3 L463.5,418.4 L464.0,418.4 L464.5,418.4 L465.0,418.5 L465.5,418.5 L466.0,418.5 L466.5,418.6 L467.0,418.6 L467.5,418.6 L468.0,418.7 L468.5,418.7 L469.0,418.7 L469.5,418.8 L470.0,418.8 L470.5,418.8 L471.0,418.8 L471.5,418.9 L472.0,418.9 L472.5,418.9 L473.0,419.0 L473.5,419.0 L474.0,419.0 L474.5,419.0 L475.0,419.1 L475.5,419.1 L476.0,419.1 L476.5,419.1 L477.0,419.2 L477.5,419.2 L478.0,419.2 L478.5,419.2 L479.0,419.3 L479.5,419.3 L480.0,419.3 L480.5,419.3 L481.0,419.3 L481.5,419.4 L482.0,419.4 L482.5,419.4 L483.0,419.4 L483.5,419.5 L484.0,419.5 L484.5,419.5 L485.0,419.5 L485.5,419.5 L486.0,419.6 L486.5,419.6 L487.0,419.6 L487.5,419.6 L488.0,419.6 L488.5,419.6 L489.0,419.7 L489.5,419.7 L490.0,419.7 L490.5,419.7 L491.0,419.7 L491.5,419.8 L492.0,419.8 L492.5,419.8 L493.0,419.8 L493.5,419.8 L494.0,419.8 L494.5,419.9 L495.0,419.9 L495.5,419.9 L496.0,419.9 L496.5,419.9 L497.0,419.9 L497.5,420.0 L498.0,420.0 L498.5,420.0 L499.0,420.0 L499.5,420.0 L500.0,420.0 L500.5,420.1 L501.0,420.1 L501.5,420.1 L502.0,420.1 L502.5,420.1 L503.0,420.1 L503.5,420.2 L504.0,420.2 L504.5,420.2 L505.0,420.2 L505.5,420.2 L506.0,420.2 L506.5,420.2 L507.0,420.3 L507.5,420.3 L508.0,420.3 L508.5,420.3 L509.0,420.3 L509.5,420.3 L510.0,420.4 L510.5,420.4 L511.0,420.4 L511.5,420.4 L512.0,420.4 L512.5,420.4 L513.0,420.4 L513.5,420.5 L514.0,420.5 L514.5,420.5 L515.0,420.5 L515.5,420.5 L516.0,420.5 L516.5,420.5 L517.0,420.6 L517.5,420.6 L518.0,420.6 L518.5,420.6 L519.0,420.6 L519.5,420.6 L520.0,420.6 L520.5,420.7 L521.0,420.7 L521.5,420.7 L522.0,420.7 L522.5,420.7 L523.0,420.7 L523.5,420.7 L524.0,420.7 L524.5,420.8 L525.0,420.8 L525.5,420.8 L526.0,420.8 L526.5,420.8 L527.0,420.8 L527.5,420.8 L528.0,420.9 L528.5,420.9 L529.0,420.9 L529.5,420.9 L530.0,420.9 L530,421 Z" fill="none" stroke="rgba(0,0,16,0.3)" stroke-width="2.2" clip-path="url(#c)"/>
<rect x="296" y="195" width="1.3" height="226" fill="rgba(255,255,255,0.16)" clip-path="url(#c)"/>
</svg>
<div class="t" style="left:-5px">380</div><div class="t" style="left:125px">480</div><div class="t" style="left:256px">580</div><div class="t" style="left:386px">680</div><div class="t" style="left:517px">780</div>
<div class="cap" style="left:180.1px;letter-spacing:0.42px">Baseline Spectrum</div><div class="cap" style="left:333.5px">|</div><div class="cap" style="left:340.2px;letter-spacing:0.15px">All</div><div class="cap" style="left:361.8px;letter-spacing:0.35px">100%</div>
</body></html>
